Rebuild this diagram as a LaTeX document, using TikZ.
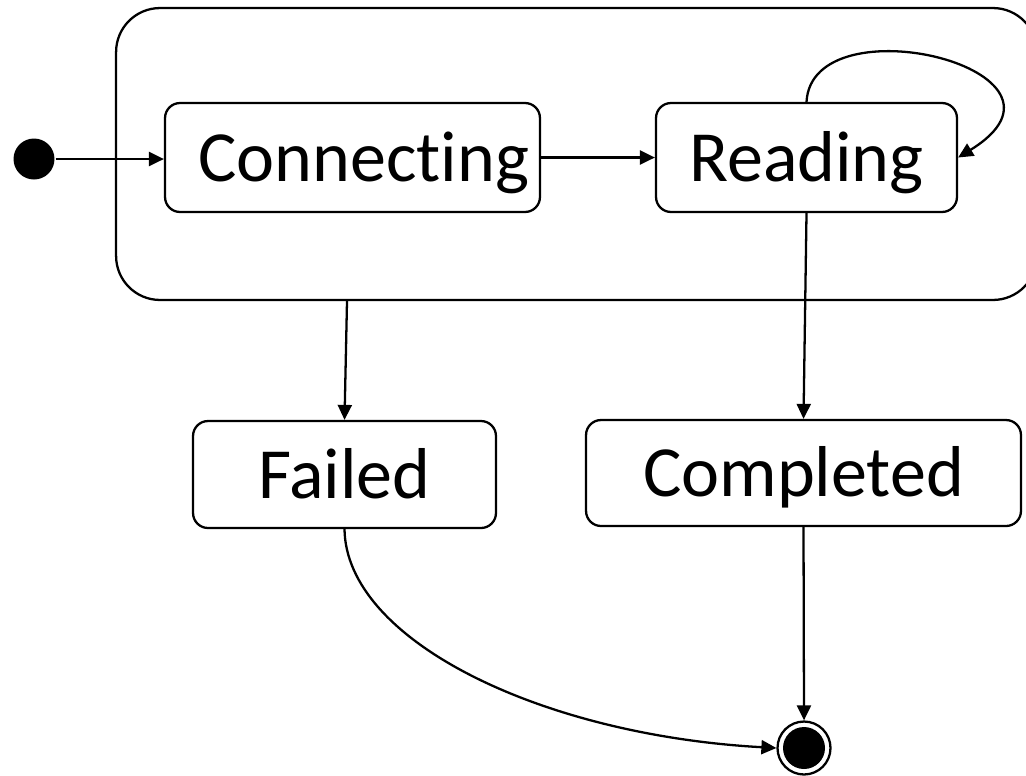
\documentclass[tikz,border=0pt]{standalone}
\usepackage{fontspec}
\setmainfont[Ligatures=NoCommon]{Carlito}
\usetikzlibrary{arrows.meta}
\tikzset{
  every picture/.style={line width=1.3pt},
  state/.style={draw, rounded corners=0.3cm, inner sep=0pt,
    text height=0.95cm, text depth=0pt,
    font=\fontsize{41}{49}\selectfont},
  trans/.style={-{Triangle[length=0.3cm,width=0.28cm]}},
}
\begin{document}
\begin{tikzpicture}[x=0.02cm,y=-0.02cm]
\useasboundingbox (0,0) rectangle (1026,775);
\clip (0,0) rectangle (1026,775);

% composite state holding the connection steps
\node[draw, rounded corners=0.88cm, minimum width=18.42cm, minimum height=5.84cm]
  (super) at (576.5,154) {};

\node[state, minimum width=7.5cm, minimum height=2.18cm] (conn) at (352.5,157.5) {\kern0.45cm Connecting};
\node[state, minimum width=6.02cm, minimum height=2.18cm] (read) at (806.5,157.5) {Reading};
\node[state, minimum width=6.06cm, minimum height=2.14cm] (fail) at (344.5,474.5) {Failed};
\node[state, minimum width=8.7cm, minimum height=2.12cm] (done) at (803.5,473) {Completed};

% initial and final pseudostates
\node[circle, fill=black, minimum size=0.82cm, inner sep=0pt] (init) at (34,159) {};
\node[circle, draw, minimum size=1.06cm, inner sep=0pt] (final) at (804,748) {};
\fill (final.center) circle (0.42cm);

% exit point on the composite state's lower edge
\coordinate (exitx) at (347,0);

% transitions
\draw[trans] (init) -- (conn.west |- init);
\draw[trans] (conn) -- (read);
\draw[trans] (read.north) .. controls (812,0) and (1100,70) .. (read.east);
\draw[trans] (exitx |- super.south) -- (fail.north);
\draw[trans] (read.south) -- (done.north);
\draw[trans] (fail.south) .. controls (346,640) and (540,735) .. (final.west);
\draw[trans] (done.south) -- (final.north);
\end{tikzpicture}
\end{document}
